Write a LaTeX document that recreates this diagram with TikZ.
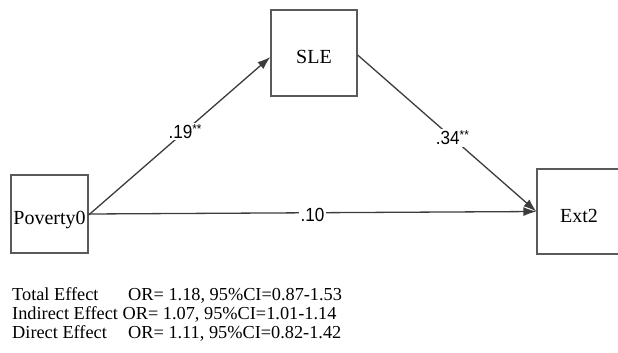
\documentclass[tikz,border=0pt]{standalone}
\usepackage{fontspec}
\setmainfont{Liberation Serif}
\newfontfamily\numfont[FakeStretch=0.9]{Liberation Sans}
\usetikzlibrary{arrows.meta}
\definecolor{boxgray}{HTML}{5A5A5A}
\definecolor{linegray}{HTML}{3C3C3C}
\tikzset{
  varbox/.style={draw=boxgray, line width=1.3pt, inner sep=0pt, text height=21pt, text depth=0pt,
    font=\fontsize{20}{20}\selectfont},
  pathline/.style={draw=linegray, line width=1.3pt},
  arrowline/.style={pathline, -{Latex[length=13pt,width=9pt]}},
  coef/.style={fill=white, inner sep=1.5pt, font=\numfont\fontsize{19}{19}\selectfont},
  stat/.style={anchor=base west, inner sep=0pt, font=\fontsize{18.3}{18.3}\selectfont}
}
\newcommand{\sig}{\raisebox{5pt}{\fontsize{13}{13}\selectfont **}}
\begin{document}
\begin{tikzpicture}[x=1pt,y=-1pt]
\useasboundingbox (0,0) rectangle (618,353);
\node[varbox, minimum width=77pt, minimum height=78pt] (pov) at (49.5,214) {Poverty0};
\node[varbox, minimum width=86pt, minimum height=86pt] (sle) at (314,53) {SLE};
\node[varbox, minimum width=84pt, minimum height=85pt] (ext) at (579,211.5) {Ext2};
\draw[arrowline] ([yshift=-1pt]pov.east) -- node[coef, pos=0.53] (a) {.19\sig} ([yshift=-4pt]sle.west);
\draw[arrowline] ([yshift=-2pt]sle.east) -- node[coef, pos=0.53] (b) {.34\sig} (ext.west);
\draw[arrowline] (pov.east) -- node[coef, pos=0.5, yshift=-2pt] (c) {.10} (ext.west);
\node[stat] (t1) at (12,300) {\makebox[116pt][l]{Total Effect}OR= 1.18, 95\%CI=0.87-1.53};
\node[stat] (t2) at (12,319) {Indirect Effect OR= 1.07, 95\%CI=1.01-1.14};
\node[stat] (t3) at (12,338) {\makebox[116pt][l]{Direct Effect}OR= 1.11, 95\%CI=0.82-1.42};
\end{tikzpicture}
\end{document}
